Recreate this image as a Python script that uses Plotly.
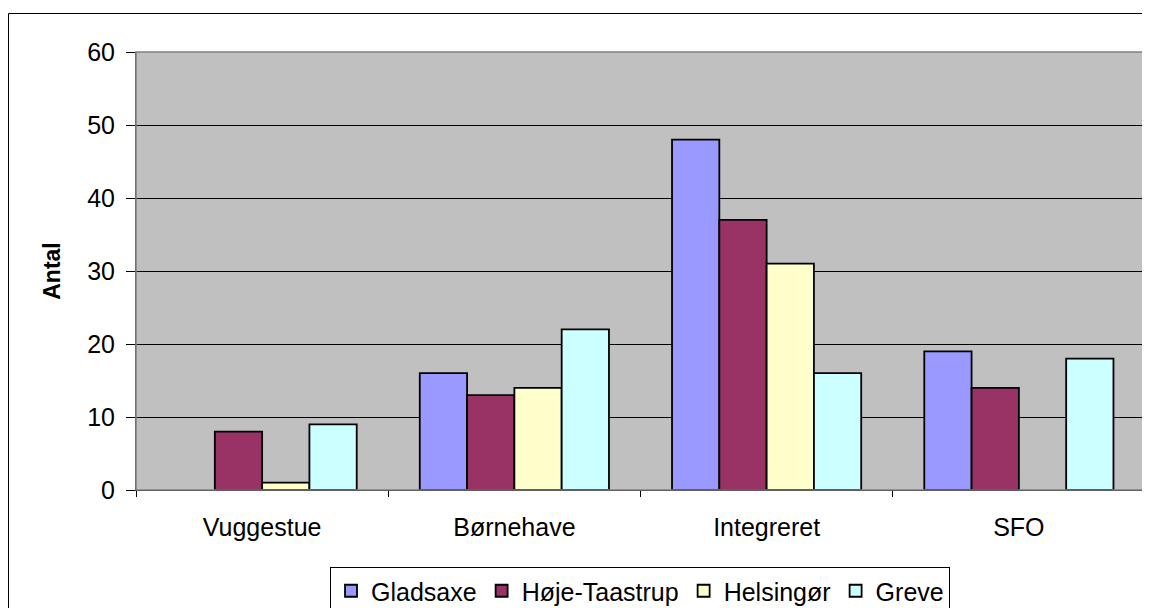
import plotly.graph_objects as go

categories = ["Vuggestue", "Børnehave", "Integreret", "SFO"]
series_names = ["Gladsaxe", "Høje-Taastrup", "Helsingør", "Greve"]
gladsaxe = [None, 16, 48, 19]
hoeje_taastrup = [8, 13, 37, 14]
helsingoer = [1, 14, 31, None]
greve = [9, 22, 16, 18]
colors = ["#9999FF", "#993366", "#FFFFCC", "#CCFFFF"]
y_ticks = [0, 10, 20, 30, 40, 50, 60]

# page body has an 8px margin, so figure coords = screen coords - 8
OFF = 8
W, H = 1150, 608
L, R, T, B = 136 - OFF, 1145 - OFF, 52 - OFF, 490 - OFF

fig = go.Figure()
for name, vals, col in zip(series_names, [gladsaxe, hoeje_taastrup, helsingoer, greve], colors):
    fig.add_trace(go.Bar(x=categories, y=vals, name=name,
                         marker=dict(color=col, line=dict(color="black", width=1.8))))

def px(x):
    return (x - OFF - L) / (R - L)

def py(y):
    return (B - (y - OFF)) / (B - T)

fig.update_layout(
    width=W, height=H,
    margin=dict(l=L, r=W - R, t=T, b=H - B, pad=0, autoexpand=False),
    paper_bgcolor="white",
    plot_bgcolor="#C0C0C0",
    barmode="group", bargap=0.25, bargroupgap=0,
    font=dict(family="Arial, Liberation Sans, sans-serif", size=20, color="black"),
    showlegend=True,
    legend=dict(orientation="h", xref="container", yref="container",
                x=(640 - OFF) / W, xanchor="center",
                y=1 - (567 - OFF) / H, yanchor="top", bordercolor="black", borderwidth=1,
                font=dict(size=25), itemwidth=30, tracegroupgap=0),
    xaxis=dict(showgrid=False, ticks="outside", tickson="boundaries", ticklen=6,
               tickcolor="black", showline=True, linecolor="black", linewidth=1,
               tickfont=dict(size=25), ticklabelstandoff=15, automargin=False),
    yaxis=dict(range=[0, 60], tickvals=y_ticks, showgrid=True, gridcolor="black", gridwidth=1,
               ticks="outside", ticklen=9, tickcolor="black", showline=True,
               linecolor="#404040", linewidth=1, zeroline=False, automargin=False,
               tickfont=dict(size=25), ticklabelstandoff=6,
               title=dict(text="<b>Antal</b>", font=dict(size=23), standoff=20)),
    shapes=[
        dict(type="rect", xref="paper", yref="paper", x0=0, x1=1, y0=0, y1=1,
             line=dict(color="#808080", width=1.5), layer="above"),
        dict(type="line", xref="paper", yref="paper", x0=px(8.5), x1=px(1160), y0=py(13.5), y1=py(13.5),
             line=dict(color="black", width=1)),
        dict(type="line", xref="paper", yref="paper", x0=px(8.5), x1=px(8.5), y0=py(13.5), y1=py(620),
             line=dict(color="black", width=1)),
    ],
)

fig.write_html("out.html")
